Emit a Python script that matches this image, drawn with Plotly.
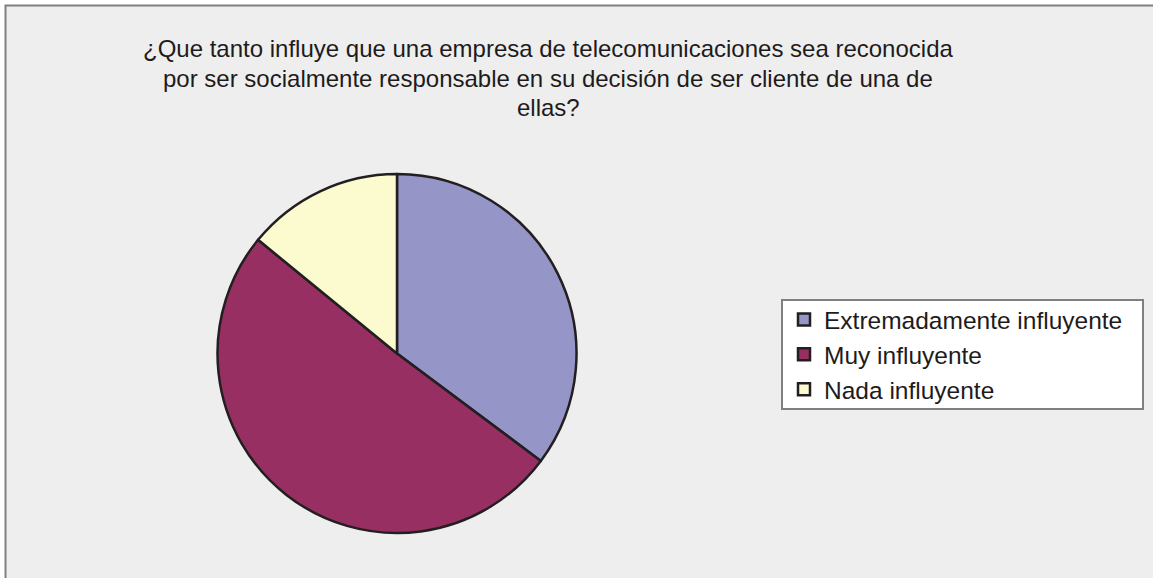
import plotly.graph_objects as go

# Survey responses
categories = ["Extremadamente influyente", "Muy influyente", "Nada influyente"]
counts = [25, 36, 10]
slice_colors = ["#9595C8", "#972F62", "#FCFACF"]

title_lines = [
    "¿Que tanto influye que una empresa de telecomunicaciones sea reconocida",
    "por ser socialmente responsable en su decisión de ser cliente de una de",
    "ellas?",
]

W, H = 1153, 578
FONT = "Liberation Sans, Arial, sans-serif"

fig = go.Figure(
    go.Pie(
        labels=categories,
        values=counts,
        sort=False,
        direction="clockwise",
        rotation=0,
        textinfo="none",
        hoverinfo="label+value+percent",
        marker=dict(colors=slice_colors, line=dict(color="#231F20", width=2.5)),
        domain=dict(x=[217.5 / W, 576.5 / W], y=[(H - 533) / H, (H - 174) / H]),
    )
)

# Chart frame (left and top edges visible)
fig.add_shape(
    type="rect", xref="paper", yref="paper",
    x0=5.5 / W, x1=1.02, y0=-0.02, y1=(H - 5.5) / H,
    fillcolor="#EEEEEE", line=dict(color="#808080", width=2), layer="below",
)

# Legend box
fig.add_shape(
    type="rect", xref="paper", yref="paper",
    x0=782 / W, x1=1143 / W, y0=(H - 409) / H, y1=(H - 300) / H,
    fillcolor="white", line=dict(color="#808080", width=2), layer="below",
)

# Title, one annotation per line
for i, line in enumerate(title_lines):
    fig.add_annotation(
        text=line, xref="paper", yref="paper",
        x=548 / W, y=(H - (49 + 29.5 * i)) / H,
        xanchor="center", yanchor="middle", showarrow=False,
        font=dict(family=FONT, size=24, color="#1E1B1C"),
    )

fig.update_layout(
    width=W, height=H,
    margin=dict(l=0, r=0, t=0, b=0),
    paper_bgcolor="white",
    plot_bgcolor="rgba(0,0,0,0)",
    showlegend=True,
    legend=dict(
        x=784 / W, y=(H - 297) / H, xanchor="left", yanchor="top",
        bgcolor="rgba(0,0,0,0)", borderwidth=0,
        font=dict(family=FONT, size=24.5, color="#1E1B1C"),
        itemwidth=30, tracegroupgap=0,
    ),
)

fig.write_html("out.html")
